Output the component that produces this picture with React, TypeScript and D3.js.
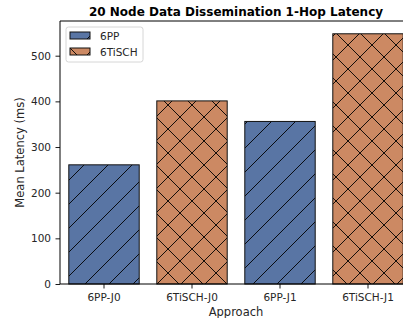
import { useEffect, useRef } from "react";
import * as d3 from "d3";

const WIDTH = 403;
const HEIGHT = 318;
const MARGIN = { top: 21, right: -9, bottom: 34, left: 60 };

const categories = ["6PP-J0", "6TiSCH-J0", "6PP-J1", "6TiSCH-J1"];
const latency = [261, 401, 356, 548];
const approach = ["6PP", "6TiSCH", "6PP", "6TiSCH"];
const legendLabels = ["6PP", "6TiSCH"];
const yTicks = [0, 100, 200, 300, 400, 500];

const COLORS: Record<string, string> = { "6PP": "#5975a4", "6TiSCH": "#cc8963" };
const FONT = "DejaVu Sans, sans-serif";

export default function App() {
    const yAxisRef = useRef<SVGGElement | null>(null);
    const xAxisRef = useRef<SVGGElement | null>(null);

    const boundsWidth = WIDTH - MARGIN.left - MARGIN.right;
    const boundsHeight = HEIGHT - MARGIN.top - MARGIN.bottom;

    const xScale = d3.scaleBand<string>()
        .domain(categories)
        .range([0, boundsWidth])
        .paddingInner(0.2)
        .paddingOuter(0.1);

    const yScale = d3.scaleLinear()
        .domain([0, 576])
        .range([boundsHeight, 0]);

    useEffect(() => {
        const yG = d3.select(yAxisRef.current);
        yG.selectAll("*").remove();
        yG.call(d3.axisLeft(yScale).tickValues(yTicks).tickSize(4.5).tickPadding(4.5).tickSizeOuter(0));
        const xG = d3.select(xAxisRef.current);
        xG.selectAll("*").remove();
        xG.call(d3.axisBottom(xScale).tickSize(4.5).tickPadding(5).tickSizeOuter(0));
        [yG, xG].forEach((g) => {
            g.select(".domain").remove();
            g.selectAll("text").attr("font-family", FONT).attr("font-size", 10.5).attr("fill", "#262626");
            g.selectAll("line").attr("stroke", "#000").attr("stroke-width", 0.9);
        });
    }, []);

    return (
        <svg width={WIDTH} height={HEIGHT} style={{ position: "absolute", left: 0, top: 0 }}>
            <defs>
                <pattern id="hatch-slash" patternUnits="userSpaceOnUse" width={24} height={24}>
                    <rect width={24} height={24} fill={COLORS["6PP"]} />
                    <path d="M0,24 L24,0 M-6,6 L6,-6 M18,30 L30,18" stroke="#000" strokeWidth={0.9} />
                </pattern>
                <pattern id="hatch-x" patternUnits="userSpaceOnUse" width={24} height={24}>
                    <rect width={24} height={24} fill={COLORS["6TiSCH"]} />
                    <path d="M0,24 L24,0 M-6,6 L6,-6 M18,30 L30,18 M0,0 L24,24 M-6,18 L6,30 M18,-6 L30,6" stroke="#000" strokeWidth={0.9} />
                </pattern>
            </defs>
            <rect width={WIDTH} height={HEIGHT} fill="#fff" />
            <text x={MARGIN.left + boundsWidth / 2} y={16} textAnchor="middle" fontFamily={FONT} fontWeight="bold" fontSize={12}>
                20 Node Data Dissemination 1-Hop Latency
            </text>
            <g transform={`translate(${MARGIN.left},${MARGIN.top})`}>
                {categories.map((c, i) => (
                    <rect
                        key={c}
                        x={xScale(c)}
                        y={yScale(latency[i])}
                        width={xScale.bandwidth()}
                        height={boundsHeight - yScale(latency[i])}
                        fill={approach[i] === "6PP" ? "url(#hatch-slash)" : "url(#hatch-x)"}
                        stroke="#111"
                        strokeWidth={1}
                    />
                ))}
                {/* spines */}
                <path d={`M0,${boundsHeight} L0,0 L${boundsWidth},0`} fill="none" stroke="#000" strokeWidth={1} />
                <line x1={0} x2={boundsWidth} y1={boundsHeight} y2={boundsHeight} stroke="#000" strokeWidth={1} />
                <g ref={yAxisRef} />
                <g ref={xAxisRef} transform={`translate(0,${boundsHeight})`} />

                {/* legend */}
                <g transform="translate(6,6)">
                    <rect x={0} y={0} width={77} height={35} rx={2.5} fill="#fff" fillOpacity={0.8} stroke="#ccc" strokeWidth={0.8} />
                    {legendLabels.map((l, i) => (
                        <g key={l} transform={`translate(4,${5 + i * 16})`}>
                            <rect x={0} y={0} width={20} height={7} fill={l === "6PP" ? "url(#hatch-slash)" : "url(#hatch-x)"} stroke="#111" strokeWidth={1} />
                            <text x={30} y={7.5} fontFamily={FONT} fontSize={10.5} fill="#262626">{l}</text>
                        </g>
                    ))}
                </g>
            </g>
            <text x={MARGIN.left + boundsWidth / 2} y={315.5} textAnchor="middle" fontFamily={FONT} fontSize={11.5} fill="#262626">
                Approach
            </text>
            <text transform={`translate(23.5,${MARGIN.top + boundsHeight / 2}) rotate(-90)`} textAnchor="middle" fontFamily={FONT} fontSize={11.5} fill="#262626">
                Mean Latency (ms)
            </text>
        </svg>
    );
}
